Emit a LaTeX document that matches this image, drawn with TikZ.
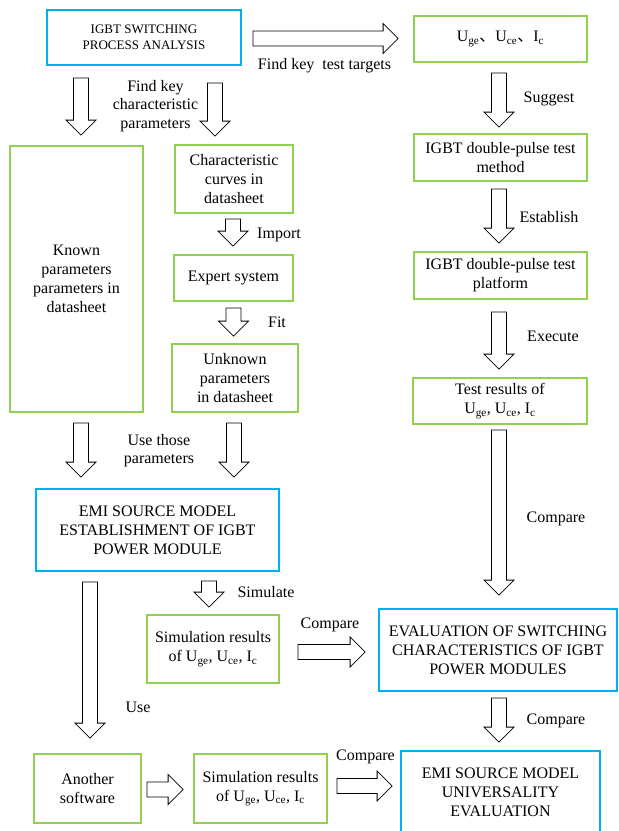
\documentclass[tikz,border=0pt]{standalone}
\usepackage{fontspec}
\setmainfont{Liberation Serif}
\newfontfamily\cjk{Noto Sans CJK SC}
\usetikzlibrary{calc}
\definecolor{boxblue}{RGB}{0,176,240}
\definecolor{boxgreen}{RGB}{146,208,80}
\tikzset{
  bluebox/.style={draw=boxblue,line width=1.8pt,align=center,inner sep=0pt},
  greenbox/.style={draw=boxgreen,line width=1.8pt,align=center,inner sep=0pt},
  lbl/.style={align=center,inner sep=0pt},
  blk/.style={draw=black,fill=white,line width=0.8pt,line join=miter}
}
% block arrows: start point and tip point
\newcommand{\downblk}[2]{\draw[blk] let \p1=#1, \p2=#2 in
  (\x1-7.5pt,\y1) -- (\x1+7.5pt,\y1) -- (\x1+7.5pt,\y2+15pt) -- (\x1+15pt,\y2+15pt)
  -- (\x1,\y2) -- (\x1-15pt,\y2+15pt) -- (\x1-7.5pt,\y2+15pt) -- cycle;}
\newcommand{\rightblk}[2]{\draw[blk] let \p1=#1, \p2=#2 in
  (\x1,\y1+7.5pt) -- (\x2-15pt,\y1+7.5pt) -- (\x2-15pt,\y1+15pt) -- (\x2,\y1)
  -- (\x2-15pt,\y1-15pt) -- (\x2-15pt,\y1-7.5pt) -- (\x1,\y1-7.5pt) -- cycle;}
\newcommand{\Uge}{U\textsubscript{ge}}
\newcommand{\Uce}{U\textsubscript{ce}}
\newcommand{\Ic}{I\textsubscript{c}}
\begin{document}
\begin{tikzpicture}[x=1pt,y=-1pt,font=\fontsize{16}{19}\selectfont]
\useasboundingbox (0,0) rectangle (619,831);
% left part
\node[bluebox,minimum width=194pt,minimum height=55pt,font=\fontsize{13}{15.5}\selectfont] (ana) at (144,37.5) {IGBT SWITCHING\\PROCESS ANALYSIS};
\node[greenbox,minimum width=133pt,minimum height=266pt] (known) at (76.5,279) {Known\\parameters\\parameters in\\datasheet};
\node[greenbox,minimum width=118pt,minimum height=68pt] (curves) at (234,179) {Characteristic\\curves in\\datasheet};
\node[greenbox,minimum width=119pt,minimum height=46pt] (expert) at (233.5,278) {Expert system};
\node[greenbox,minimum width=126pt,minimum height=68pt] (unknown) at (235,378) {Unknown\\parameters\\in datasheet};
\node[bluebox,minimum width=243pt,minimum height=82pt] (emi) at (157.5,530) {EMI SOURCE MODEL\\ESTABLISHMENT OF IGBT\\POWER MODULE};
\node[greenbox,minimum width=132pt,minimum height=68pt] (sima) at (213,649) {Simulation results\\of \Uge, \Uce, \Ic};
\node[greenbox,minimum width=107pt,minimum height=69pt] (soft) at (87.5,788.5) {Another\\software};
\node[greenbox,minimum width=133pt,minimum height=69pt] (simb) at (260.5,788.5) {Simulation results\\of \Uge, \Uce, \Ic};
% right part
\node[greenbox,minimum width=173pt,minimum height=46pt] (targets) at (500.5,39) {\Uge{\cjk 、}\Uce{\cjk 、}\Ic};
\node[greenbox,minimum width=173pt,minimum height=47pt] (method) at (500.5,157.5) {IGBT double-pulse test\\method};
\node[greenbox,minimum width=173pt,minimum height=47pt] (platform) at (500.5,275.5) {IGBT double-pulse test\\platform};
\node[greenbox,minimum width=174pt,minimum height=46pt] (results) at (500,401) {Test results of\\\Uge, \Uce, \Ic};
\node[bluebox,minimum width=238pt,minimum height=82pt] (evalc) at (498,650) {EVALUATION OF SWITCHING\\CHARACTERISTICS OF IGBT\\POWER MODULES};
\node[bluebox,minimum width=199pt,minimum height=82pt] (univ) at (500.5,792) {EMI SOURCE MODEL\\UNIVERSALITY\\EVALUATION};
% arrows
\downblk{($(ana.south)+(-63,12)$)}{($(known.north)+(0,-10)$)}
\downblk{($(ana.south)+(71,17)$)}{($(curves.north)+(0,-8)$)}
\downblk{($(curves.south)+(-1,5)$)}{($(expert.north)+(0,-8)$)}
\downblk{($(expert.south)+(0,6)$)}{($(unknown.north)+(0,-7)$)}
\downblk{($(known.south)+(4.5,10)$)}{($(emi.north)+(0,-11)$)}
\downblk{($(unknown.south)+(-1,10)$)}{($(emi.north)+(0,-11)$)}
\downblk{($(emi.south -| sima.north)+(-4,9)$)}{($(sima.north)+(0,-7)$)}
\downblk{($(emi.south -| soft.north)+(2.5,10)$)}{($(soft.north)+(0,-15)$)}
\downblk{($(targets.south)+(-1.5,10)$)}{($(method.north)+(0,-6)$)}
\downblk{($(method.south)+(-1.5,7)$)}{($(platform.north)+(0,-8)$)}
\downblk{($(platform.south)+(-1.5,12)$)}{($(results.north)+(0,-8)$)}
\downblk{($(results.south)+(-1,5)$)}{($(evalc.north)+(0,-13)$)}
\downblk{($(evalc.south)+(1,6)$)}{($(univ.north)+(0,-8)$)}
\rightblk{($(ana.east)+(11,1)$)}{($(targets.west)+(-15,0)$)}
\rightblk{($(sima.east)+(18,3)$)}{($(evalc.west)+(-13,0)$)}
\rightblk{($(soft.east)+(5,1)$)}{($(simb.west)+(-10,0)$)}
\rightblk{($(simb.east)+(9,-2.5)$)}{($(univ.west)+(-8,0)$)}
% labels
\node[lbl,font=\fontsize{16}{18.5}\selectfont] (lblkey) at (155.5,106) {Find key\\characteristic\\parameters};
\node[lbl] (lbltargets) at (324.5,66) {Find key\ \ test targets};
\node[lbl] (lblsuggest) at (549,99) {Suggest};
\node[lbl] (lblestablish) at (549,217) {Establish};
\node[lbl] (lblexecute) at (553,336) {Execute};
\node[lbl] (lblcmpa) at (556,519) {Compare};
\node[lbl] (lblimport) at (279,235) {Import};
\node[lbl] (lblfit) at (277,322) {Fit};
\node[lbl,font=\fontsize{16}{18}\selectfont] (lbluse) at (159,451) {Use those\\parameters};
\node[lbl] (lblsim) at (266,592) {Simulate};
\node[lbl] (lblcmpb) at (330,625) {Compare};
\node[lbl] (lbluseb) at (138,707) {Use};
\node[lbl] (lblcmpc) at (556,721) {Compare};
\node[lbl] (lblcmpd) at (365.5,757) {Compare};
\end{tikzpicture}
\end{document}
